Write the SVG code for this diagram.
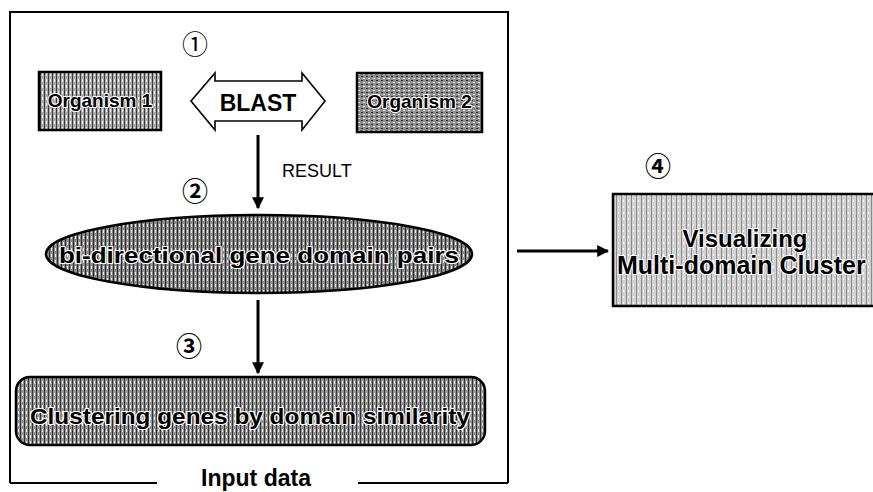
<svg xmlns="http://www.w3.org/2000/svg" width="873" height="492" viewBox="0 0 873 492">
  <style>
    .frame { stroke: #000; stroke-width: 2; fill: none; }
    .edge { stroke: #000; stroke-width: 3; fill: none; }
    .box { stroke: #000; stroke-width: 2.5; }
    .num { font-family: "Noto Sans CJK JP", "DejaVu Sans", sans-serif; font-size: 26px; text-anchor: middle; fill: #000; }
    .lbl { font-family: "Liberation Sans", Arial, sans-serif; font-weight: bold; fill: #000; text-anchor: middle; }
    .halo { stroke: #fff; stroke-width: 2.2; paint-order: stroke; stroke-linejoin: round; }
  </style>
  <defs>
    <!-- halftone-like fills -->
    <pattern id="ht-org1" width="4" height="6" patternUnits="userSpaceOnUse">
      <rect width="4" height="6" fill="#a8a8a8"/>
      <rect x="0" width="1" height="6" fill="#3a3a3a"/>
      <rect x="2" y="1" width="1" height="3" fill="#f0f0f0"/>
    </pattern>
    <pattern id="ht-org2" width="5" height="4" patternUnits="userSpaceOnUse">
      <rect width="5" height="4" fill="#8e8e8e"/>
      <rect x="1" y="0" width="2" height="1" fill="#2c2c2c"/>
      <rect x="3" y="2" width="2" height="1" fill="#e6e6e6"/>
    </pattern>
    <pattern id="ht-ell" width="4" height="6" patternUnits="userSpaceOnUse">
      <rect width="4" height="6" fill="#8a8a8a"/>
      <rect x="1" width="1" height="6" fill="#2a2a2a"/>
      <rect x="3" y="2" width="1" height="3" fill="#eeeeee"/>
    </pattern>
    <pattern id="ht-rr" width="4" height="6" patternUnits="userSpaceOnUse">
      <rect width="4" height="6" fill="#939393"/>
      <rect x="0" width="1" height="6" fill="#333"/>
      <rect x="2" y="3" width="1" height="3" fill="#f2f2f2"/>
    </pattern>
    <pattern id="ht-vis" width="5" height="6" patternUnits="userSpaceOnUse">
      <rect width="5" height="6" fill="#d2d2d2"/>
      <rect x="1" width="1" height="6" fill="#8a8a8a"/>
      <rect x="3" y="2" width="1" height="2" fill="#ffffff"/>
    </pattern>
    <marker id="head" viewBox="0 0 10 10" refX="9" refY="5" markerWidth="4" markerHeight="4" orient="auto" markerUnits="strokeWidth">
      <path d="M0,0 L10,5 L0,10 z" fill="#000"/>
    </marker>
  </defs>

  <rect width="873" height="492" fill="#fff"/>

  <!-- input data frame, bottom edge broken by its caption -->
  <g id="frame" class="frame">
    <path d="M10,483 L10,12 L508,12 L508,483"/>
    <line x1="10" y1="483" x2="157" y2="483"/>
    <line x1="358" y1="483" x2="508" y2="483"/>
  </g>
  <text class="lbl" x="256" y="486" font-size="23">Input data</text>

  <!-- step numbers -->
  <text class="num" x="195" y="54">①</text>
  <text class="num" x="195" y="201" font-weight="bold">②</text>
  <text class="num" x="189" y="356" font-weight="bold">③</text>
  <text class="num" x="658" y="176" font-weight="bold">④</text>

  <g id="organism1">
    <rect class="box" x="39" y="72" width="122" height="58" fill="url(#ht-org1)"/>
    <text class="lbl halo" x="100" y="107" font-size="19">Organism 1</text>
  </g>

  <g id="organism2">
    <rect class="box" x="357" y="73" width="125" height="59" fill="url(#ht-org2)"/>
    <text class="lbl halo" x="419.5" y="108" font-size="19">Organism 2</text>
  </g>

  <g id="blast">
    <polygon points="191,101 215,73 215,81 302,81 302,73 325,101 302,130 302,121 215,121 215,130" fill="#fff" stroke="#000" stroke-width="1.6" stroke-linejoin="miter"/>
    <text class="lbl" x="258" y="111" font-size="23">BLAST</text>
  </g>

  <g id="pairs">
    <ellipse cx="259" cy="254" rx="213" ry="39" fill="url(#ht-ell)" stroke="#000" stroke-width="2.5"/>
    <text class="lbl halo" x="259" y="263" font-size="22" textLength="400" lengthAdjust="spacingAndGlyphs">bi-directional gene domain pairs</text>
  </g>

  <g id="clustering">
    <rect x="16" y="377" width="469" height="68" rx="14" fill="url(#ht-rr)" stroke="#000" stroke-width="2.5"/>
    <text class="lbl halo" x="250" y="424" font-size="22" textLength="440" lengthAdjust="spacingAndGlyphs">Clustering genes by domain similarity</text>
  </g>

  <g id="visualizing">
    <rect x="613" y="194" width="270" height="112" fill="url(#ht-vis)" stroke="#000" stroke-width="2.5"/>
    <text class="lbl halo" x="745" y="247" font-size="24">Visualizing</text>
    <text class="lbl halo" x="617" y="274" font-size="25" style="text-anchor:start">Multi-domain Cluster</text>
  </g>

  <!-- connectors -->
  <g id="connectors" class="edge">
    <line x1="258" y1="135" x2="258" y2="208" marker-end="url(#head)"/>
    <line x1="258" y1="300" x2="258" y2="373" marker-end="url(#head)"/>
    <line x1="517" y1="251" x2="608" y2="251" marker-end="url(#head)"/>
  </g>
  <text x="282" y="177" font-family="Liberation Sans, Arial, sans-serif" font-size="18" fill="#000">RESULT</text>
</svg>
